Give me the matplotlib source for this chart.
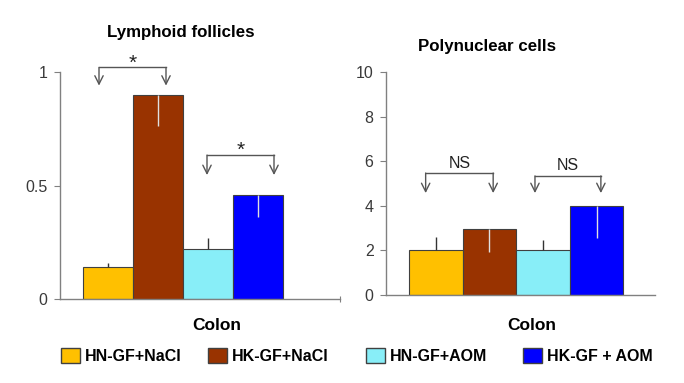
import matplotlib
matplotlib.use("Agg")
import matplotlib.pyplot as plt
from matplotlib.patches import Patch

plt.rcParams['font.family'] = ['Liberation Sans', 'DejaVu Sans']

groups = ["HN-GF+NaCl", "HK-GF+NaCl", "HN-GF+AOM", "HK-GF + AOM"]
colors = ["#FFC000", "#993300", "#88EEF8", "#0000FF"]
err_up = [True, False, True, False]  # light bars: error drawn upward in black; dark bars: downward in white

lymph_vals = [0.14, 0.90, 0.22, 0.46]
lymph_err = [0.02, 0.14, 0.05, 0.10]
poly_vals = [2.0, 2.95, 2.0, 4.0]
poly_err = [0.6, 1.0, 0.45, 1.45]

lymph_ticks = [0, 0.5, 1]
lymph_ticklabels = ["0", "0.5", "1"]
poly_ticks = [0, 2, 4, 6, 8, 10]

# significance brackets: (x_left, x_right, y_top, y_tip, label, label_y)
lymph_sig = [(-0.18, 1.16, 1.02, 0.94, "*", 1.04),
             (1.98, 3.32, 0.634, 0.546, "*", 0.655)]
poly_sig = [(-0.19, 1.07, 5.47, 4.57, "NS", 5.9),
            (1.85, 3.08, 5.34, 4.57, "NS", 5.8)]

fig = plt.figure(figsize=(6.84, 3.83), dpi=100)
ax1 = fig.add_axes([60/684, (383-299)/383, 280/684, 227/383])
ax2 = fig.add_axes([386/684, (383-295)/383, 269/684, 223/383])

def draw(ax, vals, errs, ylim, xlim, ticks, ticklabels, title, sig, sig_fs,
         title_x, title_y, xlab_x, xlab_y):
    x = list(range(len(vals)))
    ax.bar(x, vals, width=1.0, color=colors, edgecolor="#404040", linewidth=0.8, zorder=2)
    for i, (v, e) in enumerate(zip(vals, errs)):
        if err_up[i]:
            ax.errorbar([i], [v], yerr=[[0], [e]], fmt="none", ecolor="#333333",
                        elinewidth=1.0, capsize=0, zorder=3)
        else:
            ax.errorbar([i], [v], yerr=[[e], [0]], fmt="none", ecolor="#E0E0E0",
                        elinewidth=1.0, capsize=0, zorder=3)
    ax.set_xlim(*xlim)
    ax.set_ylim(*ylim)
    ax.set_yticks(ticks)
    ax.set_yticklabels(ticklabels)
    ax.tick_params(axis="y", direction="out", length=4, width=0.8, color="#808080",
                   labelsize=11.5, labelcolor="#3a3a3a", pad=5)
    for s in ["top", "right"]:
        ax.spines[s].set_visible(False)
    for s in ["left", "bottom"]:
        ax.spines[s].set_color("#808080")
        ax.spines[s].set_linewidth(1.0)
    ax.set_xlabel("Colon", fontsize=12.5, fontweight="bold")
    ax.xaxis.set_label_coords(xlab_x, xlab_y)
    ax.xaxis.label.set_va("center")
    ax.text(title_x, title_y, title, transform=ax.transAxes,
            ha="center", va="center", fontsize=12.2, fontweight="bold")
    for xl, xr, yt, ytip, lab, ly in sig:
        ax.plot([xl, xr], [yt, yt], color="#555555", lw=1.0, clip_on=False, zorder=4)
        for xx in (xl, xr):
            ax.annotate("", xy=(xx, ytip), xytext=(xx, yt), annotation_clip=False,
                        arrowprops=dict(arrowstyle="->,head_width=0.3,head_length=0.6",
                                        color="#555555", lw=1.0, shrinkA=0, shrinkB=0))
        ax.text((xl + xr) / 2, ly, lab, ha="center", va="center", fontsize=sig_fs,
                color="#222222", clip_on=False)

draw(ax1, lymph_vals, lymph_err, (0, 1), (-0.96, 4.64), lymph_ticks, lymph_ticklabels,
     "Lymphoid follicles", lymph_sig, 15, (181-60)/280, 1 + (72-32)/227,
     (217-60)/280, -26/227)
ax1.set_xticks([4.64])
ax1.set_xticklabels([""])
ax1.tick_params(axis="x", direction="inout", length=5, color="#808080")
draw(ax2, poly_vals, poly_err, (0, 10), (-0.93, 4.09), poly_ticks,
     [str(t) for t in poly_ticks], "Polynuclear cells", poly_sig, 11.5,
     (487-386)/269, 1 + (72-47)/223, (532-386)/269, -30/223)
ax2.set_xticks([])

# legend entries
patch_x = [61, 208, 366, 523]
for gx, name, c in zip(patch_x, groups, colors):
    fig.legend(handles=[Patch(facecolor=c, edgecolor="#404040", linewidth=1.0, label=name)],
               loc="center left", bbox_to_anchor=(gx/684, 1 - 356/383), frameon=False,
               borderpad=0, borderaxespad=0, handlelength=1.2, handleheight=1.05,
               handletextpad=0.3, prop=dict(size=11.5, weight="bold"))

fig.savefig("out.png", dpi=100)
